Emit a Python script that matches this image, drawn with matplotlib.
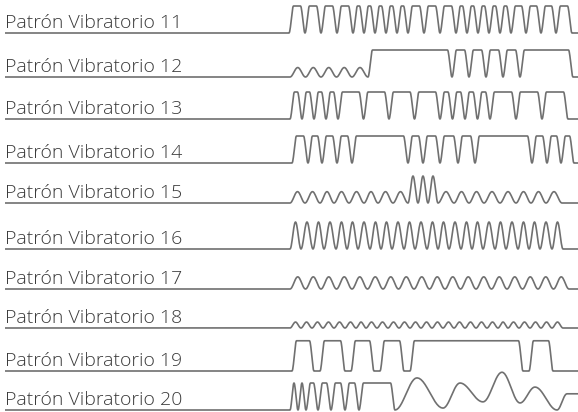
import numpy as np
import matplotlib
matplotlib.use('Agg')
import matplotlib.pyplot as plt

# Row labels and the y position (pixels from top) of each row's base line
LABELS = ['Patrón Vibratorio 11', 'Patrón Vibratorio 12', 'Patrón Vibratorio 13',
          'Patrón Vibratorio 14', 'Patrón Vibratorio 15', 'Patrón Vibratorio 16',
          'Patrón Vibratorio 17', 'Patrón Vibratorio 18', 'Patrón Vibratorio 19',
          'Patrón Vibratorio 20']
BASELINES = [33, 77, 119, 163, 203, 249, 289, 328, 371, 410]

# Each pattern: pulse boundaries (x), pulse heights, pulse kind
# ('s' = rounded square pulse, 'b' = smooth bump)
P11_BOUNDS = [289, 305, 321, 337, 353, 364, 375, 386, 397, 408, 424, 440, 456,
              467, 478, 489, 500, 511, 526, 541, 556, 572]
P11_HEIGHTS = [1, 1, 1, 1, 1, 1, 1, 1, 1, 1, 1, 1, 1, 1, 1, 1, 1, 1, 1, 1, 1]
P11_KINDS = 'sssssssssssssssssssss'

P12_BOUNDS = [290, 305.5, 321, 336.5, 352, 368, 452, 469, 486, 503, 520, 573]
P12_HEIGHTS = [.35, .35, .35, .35, .35, 1, 1, 1, 1, 1, 1]
P12_KINDS = 'bbbbbssssss'

P13_BOUNDS = [290, 302, 314, 326, 338, 363.5, 389, 414.5, 440, 452.5, 465, 477.5,
              490, 516, 542, 568]
P13_HEIGHTS = [1, 1, 1, 1, 1, 1, 1, 1, 1, 1, 1, 1, 1, 1, 1]
P13_KINDS = 'sssssssssssssss'

P14_BOUNDS = [292, 308, 322, 337, 352, 408, 423, 440, 458, 475, 532, 547, 561, 574]
P14_HEIGHTS = [1, 1, 1, 1, 1, 1, 1, 1, 1, 1, 1, 1, 1]
P14_KINDS = 'sssssssssssss'

P15_BOUNDS = [290, 305, 320, 334, 349, 364, 378, 393, 408, 418, 428, 438, 454,
              469, 484, 500, 516, 531, 546, 562]
P15_HEIGHTS = [.42, .42, .42, .42, .42, .42, .42, .42, 1, 1, 1,
               .42, .42, .42, .42, .42, .42, .42, .42]
P15_KINDS = 'bbbbbbbbbbbbbbbbbbb'

P16_BOUNDS = [290, 301, 313, 324, 336, 347, 358, 370, 381, 392, 404, 415, 427,
              438, 449, 461, 472, 483, 495, 506, 518, 529, 540, 552, 563]
P16_HEIGHTS = [1, 1, 1, 1, 1, 1, 1, 1, 1, 1, 1, 1, 1, 1, 1, 1, 1, 1, 1, 1, 1, 1, 1, 1]
P16_KINDS = 'bbbbbbbbbbbbbbbbbbbbbbbb'

P17_BOUNDS = [290, 305.5, 321, 336.5, 352, 367.5, 383, 398.5, 414, 429.5, 445,
              460.5, 476, 491.5, 507, 522.5, 538, 553.5, 569]
P17_HEIGHTS = [.45, .45, .45, .45, .45, .45, .45, .45, .45, .45, .45, .45,
               .45, .45, .45, .45, .45, .45]
P17_KINDS = 'bbbbbbbbbbbbbbbbbb'

P18_BOUNDS = [290, 301, 312, 323, 334, 345, 356, 366, 377, 388, 399, 410, 421,
              432, 443, 454, 465, 476, 487, 498, 508, 519, 530, 541, 552, 563]
P18_HEIGHTS = [.22, .22, .22, .22, .22, .22, .22, .22, .22, .22, .22, .22, .22,
               .22, .22, .22, .22, .22, .22, .22, .22, .22, .22, .22, .22]
P18_KINDS = 'bbbbbbbbbbbbbbbbbbbbbbbbb'

# pattern 19 rests on the base line between its pulses
P19_BOUNDS = [292, 314, 320, 345, 351, 374, 380, 404, 410, 523, 529, 553]
P19_HEIGHTS = [1.12, 0, 1.12, 0, 1.12, 0, 1.12, 0, 1.12, 0, 1.12]
P19_KINDS = 'sssssssssss'

P20_BOUNDS = [290, 298, 306, 318, 331, 345, 359, 395]
P20_HEIGHTS = [1, 1, 1, 1, 1, 1, 1]
P20_KINDS = 'sssssss'
# free-form tail of pattern 20 (x, level)
P20_TAIL_X = [395, 417, 443, 460, 483, 502, 520, 535, 557, 567, 578]
P20_TAIL_Y = [0, 1.19, 0.07, 1.0, 0.3, 1.4, 0.26, 0.85, 0.0, 0.6, 0.6]

PATTERNS = [
    (P11_BOUNDS, P11_HEIGHTS, P11_KINDS, None),
    (P12_BOUNDS, P12_HEIGHTS, P12_KINDS, None),
    (P13_BOUNDS, P13_HEIGHTS, P13_KINDS, None),
    (P14_BOUNDS, P14_HEIGHTS, P14_KINDS, None),
    (P15_BOUNDS, P15_HEIGHTS, P15_KINDS, None),
    (P16_BOUNDS, P16_HEIGHTS, P16_KINDS, None),
    (P17_BOUNDS, P17_HEIGHTS, P17_KINDS, None),
    (P18_BOUNDS, P18_HEIGHTS, P18_KINDS, None),
    (P19_BOUNDS, P19_HEIGHTS, P19_KINDS, None),
    (P20_BOUNDS, P20_HEIGHTS, P20_KINDS, (P20_TAIL_X, P20_TAIL_Y)),
]

WIDTH, HEIGHT = 578, 412
LINE_START = 5
AMP = 27        # pixels for a level of 1.0
RAMP = 4.5      # edge width of square pulses
LINE_COLOR = '#707070'
TEXT_COLOR = '#3a3a3a'


def pulse_knots(bounds, heights, kinds):
    xs, ys = [], []
    for x0, x1, h, k in zip(bounds[:-1], bounds[1:], heights, kinds):
        half = (x1 - x0) / 2.0
        r = half if k == 'b' else min(RAMP, half)
        xs += [x0, x0 + r, x1 - r, x1]
        ys += [0, h, h, 0]
    return xs, ys


def eased_curve(xs, ys, steps=14):
    """Join the knots with half-cosine transitions."""
    out_x, out_y = [xs[0]], [ys[0]]
    t = np.linspace(0, 1, steps)[1:]
    s = (1 - np.cos(np.pi * t)) / 2
    for x0, x1, y0, y1 in zip(xs[:-1], xs[1:], ys[:-1], ys[1:]):
        if x1 - x0 <= 0:
            continue
        out_x.extend(x0 + (x1 - x0) * t)
        out_y.extend(y0 + (y1 - y0) * s)
    return out_x, out_y


fig = plt.figure(figsize=(WIDTH / 100, HEIGHT / 100), dpi=100)
ax = fig.add_axes([0, 0, 1, 1])
ax.set_xlim(0, WIDTH)
ax.set_ylim(HEIGHT, 0)
ax.axis('off')

for label, base, (bounds, heights, kinds, tail) in zip(LABELS, BASELINES, PATTERNS):
    kx, ky = pulse_knots(bounds, heights, kinds)
    if tail is not None:
        kx += list(tail[0])
        ky += list(tail[1])
    cx, cy = eased_curve(kx, ky)
    # base line under the label, then the pattern, then back out to the edge
    px = [LINE_START] + list(cx) + [WIDTH]
    py = [0] + list(cy) + [cy[-1]]
    ax.plot(px, [base - v * AMP for v in py], color=LINE_COLOR, lw=1.2,
            solid_capstyle='butt', solid_joinstyle='round')
    ax.text(LINE_START, base - 5, label, fontsize=14, color=TEXT_COLOR,
            family=['Open Sans', 'DejaVu Sans'], fontweight='light',
            va='baseline', ha='left')

fig.savefig('out.png', dpi=100)
